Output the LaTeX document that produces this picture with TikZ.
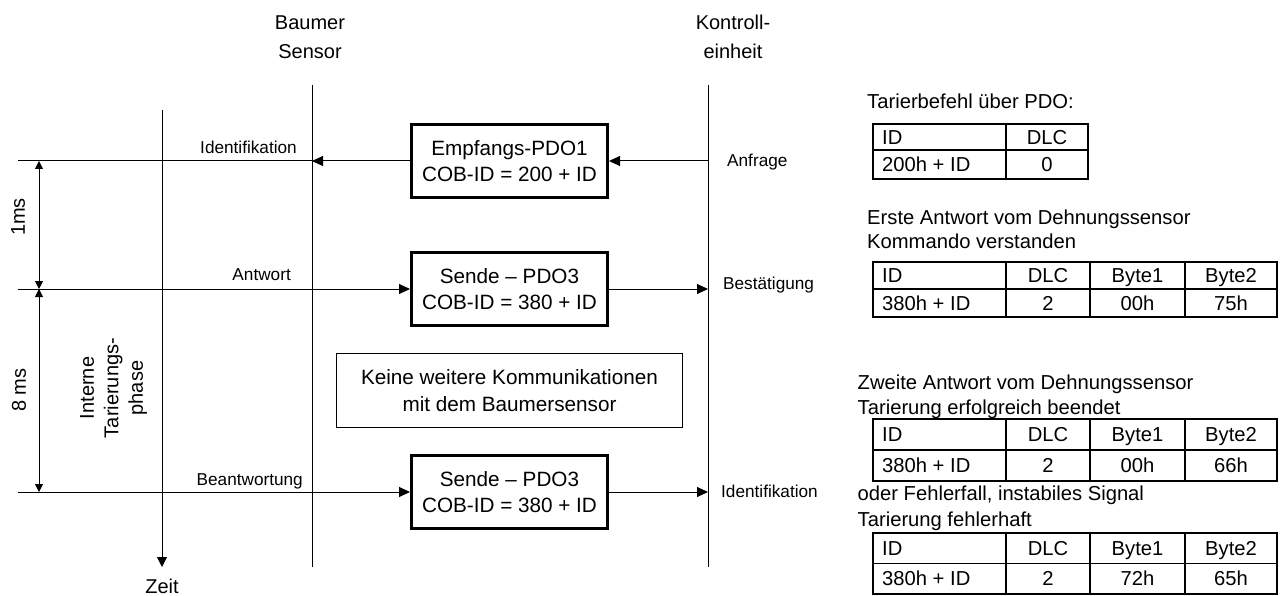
\documentclass[tikz,border=0pt]{standalone}
\usepackage{fontspec}
\setmainfont{Liberation Sans}
\usetikzlibrary{arrows.meta,calc}

% one table of a CAN response: header row and value row
\newcommand{\bytetable}[6]{%
  \draw[tabgrid] (873,#3) -- (1277,#3)
    (1006,#2) -- (1006,#4) (1090,#2) -- (1090,#4) (1185,#2) -- (1185,#4);
  \draw[tabframe] (873,#2) rectangle (1277,#4);
  \node[cell, anchor=base west] (#1-id) at (882,{(#2+#3)/2+7.2}) {ID};
  \node[cell] (#1-dlc) at (1048,{(#2+#3)/2+7.2}) {DLC};
  \node[cell] (#1-b1)  at (1137.5,{(#2+#3)/2+7.2}) {Byte1};
  \node[cell] (#1-b2)  at (1231,{(#2+#3)/2+7.2}) {Byte2};
  \node[cell, anchor=base west] (#1-idv) at (882,{(#3+#4)/2+7.2}) {380h + ID};
  \node[cell] (#1-dlcv) at (1048,{(#3+#4)/2+7.2}) {2};
  \node[cell] (#1-b1v)  at (1137.5,{(#3+#4)/2+7.2}) {#5};
  \node[cell] (#1-b2v)  at (1231,{(#3+#4)/2+7.2}) {#6};
}

\tikzset{
  thin line/.style={line width=1pt, draw=black},
  arr/.style={thin line, -{Triangle[length=11pt,width=10pt]}},
  dimarr/.style={thin line, {Triangle[length=8pt,width=8pt]}-{Triangle[length=8pt,width=8pt]}},
  zeitarr/.style={thin line, -{Triangle[length=10pt,width=10pt]}},
  pdobox/.style={draw, line width=3pt, minimum width=196pt, minimum height=73pt,
    inner sep=0pt, align=center, font=\fontsize{20.7}{26.7}\selectfont},
  infobox/.style={draw, line width=1pt, minimum width=346pt, minimum height=74pt,
    inner sep=0pt, align=center, font=\fontsize{20.7}{26.7}\selectfont},
  head/.style={inner sep=0pt, align=center, font=\fontsize{20}{28.6}\selectfont},
  side/.style={inner sep=0pt, align=center, font=\fontsize{20}{24.5}\selectfont},
  msg/.style={inner sep=0pt, font=\fontsize{17.2}{20}\selectfont},
  note/.style={inner sep=0pt, anchor=base west, font=\fontsize{20.2}{23}\selectfont},
  cell/.style={inner sep=0pt, anchor=base, font=\fontsize{20.2}{23}\selectfont},
  tabgrid/.style={line width=1.3pt},
  tabframe/.style={line width=2.2pt},
}

\begin{document}
\begin{tikzpicture}[x=1pt,y=-1pt]
\useasboundingbox (0,0) rectangle (1288,596);

% participants
\node[head, anchor=north] (sensor) at (310,16) {Baumer\\Sensor};
\node[head, anchor=north] (kontroll) at (733,15) {Kontroll-\\einheit};

\coordinate (bs-top) at (312,85);
\coordinate (bs-bot) at (312,567);
\coordinate (ke-top) at (708,85);
\coordinate (ke-bot) at (708,567);
\coordinate (zeit-top) at (162,110);
\coordinate (zeit-bot) at (162,567);
\coordinate (leftedge) at (18,0);
\coordinate (dim) at (39,0);

\draw[thin line] (bs-top) -- (bs-bot);
\draw[thin line] (ke-top) -- (ke-bot);
\draw[zeitarr] (zeit-top) -- (zeit-bot);
\node[head, anchor=north] (zeit) at (162,579) {Zeit};

% PDO messages
\node[pdobox] (rx1) at (509.5,161) {Empfangs-PDO1\\COB-ID = 200 + ID};
\node[pdobox] (tx1) at (509.5,289) {Sende -- PDO3\\COB-ID = 380 + ID};
\node[pdobox] (tx2) at (509.5,492) {Sende -- PDO3\\COB-ID = 380 + ID};
\node[infobox] (quiet) at (509.5,390.5) {Keine weitere Kommunikationen\\mit dem Baumersensor};

% request: control unit -> sensor
\draw[arr] (rx1.east -| ke-top) -- (rx1.east);
\draw[arr] (rx1.west) -- (rx1.west -| bs-top);
\draw[thin line] (rx1.west -| bs-top) -- (rx1.west -| leftedge);

% first answer
\draw[arr] (tx1.west -| leftedge) -- (tx1.west);
\draw[arr] (tx1.east) -- (tx1.east -| ke-top);

% second answer
\draw[arr] (tx2.west -| leftedge) -- (tx2.west);
\draw[arr] (tx2.east) -- (tx2.east -| ke-top);

% time spans
\draw[dimarr] (rx1.west -| dim) -- (tx1.west -| dim);
\draw[dimarr] (tx1.west -| dim) -- (tx2.west -| dim);
\node[side, rotate=90] (t1) at (18,217) {1ms};
\node[side, rotate=90] (t8) at (19,390) {8 ms};
\node[side, rotate=90] (phase) at (113.5,388) {Interne\\Tarierungs-\\phase};

% message labels
\node[msg, anchor=base east] (m1) at (297,154) {Identifikation};
\node[msg, anchor=base east] (m2) at (291,280) {Antwort};
\node[msg, anchor=base east] (m3) at (303,485) {Beantwortung};
\node[msg, anchor=base west] (m4) at (727,167) {Anfrage};
\node[msg, anchor=base west] (m5) at (723,290) {Bestätigung};
\node[msg, anchor=base west] (m6) at (721,497) {Identifikation};

% command table
\node[note] (n1) at (867,108.3) {Tarierbefehl über PDO:};
\draw[tabgrid] (873,150) -- (1088,150) (1006,124) -- (1006,179);
\draw[tabframe] (873,124) rectangle (1088,179);
\node[cell, anchor=base west] (c-id) at (882,144.2) {ID};
\node[cell] (c-dlc) at (1047,144.2) {DLC};
\node[cell, anchor=base west] (c-idv) at (882,171.7) {200h + ID};
\node[cell] (c-dlcv) at (1047,171.7) {0};

% first response
\node[note] (n2) at (867,225) {Erste Antwort vom Dehnungssensor};
\node[note] (n3) at (867,248) {Kommando verstanden};
\bytetable{r1}{262}{289}{317}{00h}{75h}

% second response
\node[note] (n4) at (857.5,389.3) {Zweite Antwort vom Dehnungssensor};
\node[note] (n5) at (857.5,414) {Tarierung erfolgreich beendet};
\bytetable{r2}{419}{450}{481}{00h}{66h}

% error case
\node[note] (n6) at (857.5,500) {oder Fehlerfall, instabiles Signal};
\node[note] (n7) at (857.5,526.7) {Tarierung fehlerhaft};
\bytetable{r3}{533}{563.5}{594}{72h}{65h}
\end{tikzpicture}
\end{document}
